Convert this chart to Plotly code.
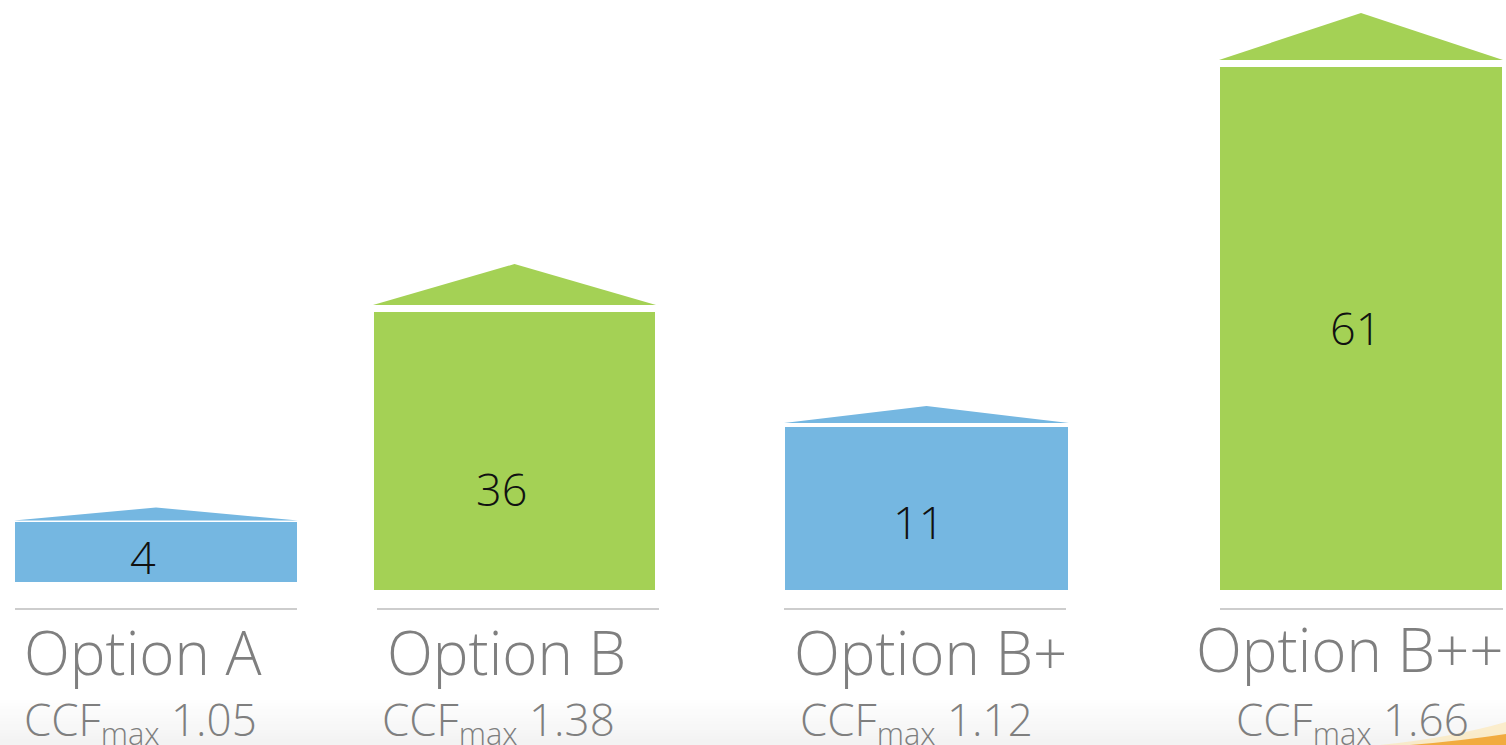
import plotly.graph_objects as go

# ---- data ----
categories = ["Option A", "Option B", "Option B+", "Option B++"]
values = [4, 36, 11, 61]
ccf_max = [1.05, 1.38, 1.12, 1.66]
# visual bar sizes (index units, not proportional to values)
bar_sizes = [60, 278, 163, 523]
roof_sizes = [13, 41, 17, 47]

# ---- layout constants (pixels) ----
W, H = 1506, 745
BLUE = "#75B7E1"
GREEN = "#A4D155"
colors = [BLUE, GREEN, BLUE, GREEN]
centers = [156, 514.5, 926.5, 1361]
widths = [282, 281, 283, 282]
bottoms_px = [582, 590, 590, 590]
roof_gaps = [1.5, 7, 4, 7]
value_label_x = [143, 501, 918, 1355]
value_label_px = [556, 488, 521, 327]
cat_label_px = [652, 652, 652, 649]
cat_label_x = [142, 506, 930, 1350]
ccf_label_x = [140, 498, 916, 1352]
line_x = [(15, 297), (377, 659), (784, 1066), (1220, 1503)]
LINE_Y = 609
FONT = "Open Sans"


def py(p):
    return H - p


fig = go.Figure()

bases = [py(b) for b in bottoms_px]
fig.add_trace(go.Bar(
    x=centers, y=bar_sizes, base=bases, width=widths,
    marker=dict(color=colors, line=dict(width=0)),
    hoverinfo="skip", showlegend=False,
))

# roofs
for i in range(len(categories)):
    top = bases[i] + bar_sizes[i] + roof_gaps[i]
    half = widths[i] / 2 + 1
    xs = [centers[i] - half, centers[i], centers[i] + half, centers[i] - half]
    ys = [top, top + roof_sizes[i], top, top]
    fig.add_trace(go.Scatter(
        x=xs, y=ys, mode="lines", fill="toself", fillcolor=colors[i],
        line=dict(width=0, color=colors[i]), hoverinfo="skip", showlegend=False,
    ))

shapes = []
# faint bottom gradient band
n = 15
for k in range(n):
    y0p = 700 + k * 3
    g = int(255 - (k + 1) * 12 / n)
    shapes.append(dict(type="rect", xref="x", yref="y", x0=0, x1=W,
                       y0=py(y0p + 3), y1=py(y0p),
                       fillcolor=f"rgb({g},{g},{g})", line=dict(width=0), layer="below"))
# orange swoosh in the bottom-right corner
shapes.append(dict(type="path", xref="x", yref="y",
                   path=f"M 1380,{py(745)} Q 1450,{py(738)} 1506,{py(722)} L 1506,{py(745)} Z",
                   fillcolor="rgba(255,225,150,0.45)", line=dict(width=0), layer="below"))
shapes.append(dict(type="path", xref="x", yref="y",
                   path=f"M 1410,{py(745)} Q 1460,{py(741)} 1506,{py(734)} L 1506,{py(745)} Z",
                   fillcolor="rgba(240,160,40,0.85)", line=dict(width=0), layer="below"))
for (x0, x1) in line_x:
    shapes.append(dict(type="line", xref="x", yref="y", x0=x0, x1=x1,
                       y0=py(LINE_Y), y1=py(LINE_Y),
                       line=dict(color="#bdbdbd", width=1.5)))

annotations = []
for i, cat in enumerate(categories):
    annotations.append(dict(
        x=value_label_x[i], y=py(value_label_px[i]), xref="x", yref="y",
        text=str(values[i]), showarrow=False,
        font=dict(family=FONT, size=45, color="#111111", weight=300),
    ))
    annotations.append(dict(
        x=cat_label_x[i], y=py(cat_label_px[i]), xref="x", yref="y",
        text=cat, showarrow=False,
        font=dict(family=FONT, size=60, color="#7f7f7f", weight=300),
    ))
    annotations.append(dict(
        x=ccf_label_x[i], y=py(721), xref="x", yref="y",
        text=f"CCF<sub>max</sub> {ccf_max[i]:.2f}", showarrow=False,
        font=dict(family=FONT, size=44, color="#7f7f7f", weight=300),
    ))

fig.update_layout(
    width=W, height=H,
    margin=dict(l=0, r=0, t=0, b=0),
    paper_bgcolor="white", plot_bgcolor="white",
    barmode="overlay",
    xaxis=dict(range=[0, W], visible=False, fixedrange=True),
    yaxis=dict(range=[0, H], visible=False, fixedrange=True),
    shapes=shapes, annotations=annotations,
    showlegend=False,
)

fig.write_html("out.html")
